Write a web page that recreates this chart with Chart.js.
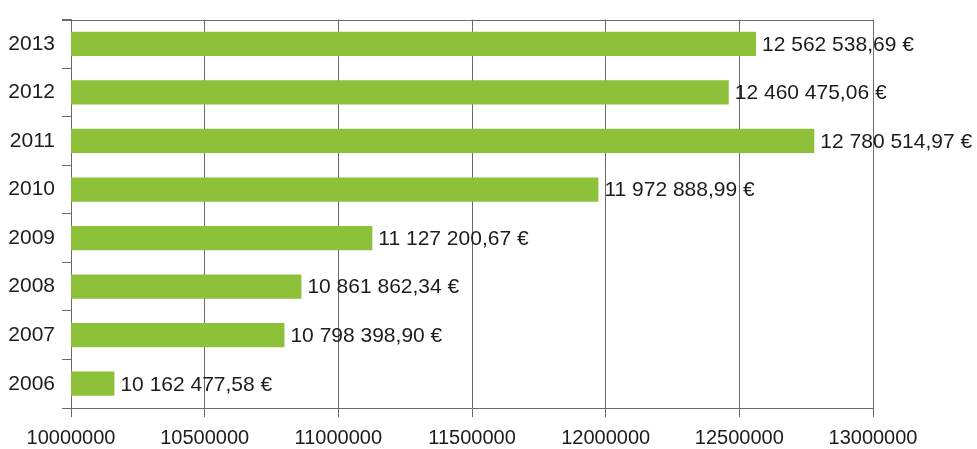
<!DOCTYPE html>
<html>
<head>
<meta charset="utf-8">
<script src="https://cdn.jsdelivr.net/npm/chart.js@4"></script>
<style>
  html, body { margin: 0; padding: 0; background: #fff; }
  #wrap { width: 977px; height: 449px; }
</style>
</head>
<body>
<div id="wrap"><canvas id="budgetChart"></canvas></div>
<script>
// Years, top to bottom
const years = ['2013', '2012', '2011', '2010', '2009', '2008', '2007', '2006'];
// Amount per year in euros
const amounts = [12562538.69, 12460475.06, 12780514.97, 11972888.99, 11127200.67, 10861862.34, 10798398.90, 10162477.58];
// X axis range and step
const axisMin = 10000000;
const axisMax = 13000000;
const axisStep = 500000;

const textColor = '#1c1c1c';
const lineColor = '#6a6a6a';

// Format like "12 562 538,69 €"
function formatEuro(v) {
    const parts = v.toFixed(2).split('.');
    const intPart = parts[0].replace(/\B(?=(\d{3})+(?!\d))/g, ' ');
    return intPart + ',' + parts[1] + ' €';
}

// Draws the value text after each bar and the top frame line
const valueLabels = {
    id: 'valueLabels',
    afterDatasetsDraw(chart) {
        const ctx = chart.ctx;
        const meta = chart.getDatasetMeta(0);
        ctx.save();
        ctx.font = '21px Arial, "Liberation Sans", sans-serif';
        ctx.fillStyle = textColor;
        ctx.textAlign = 'left';
        ctx.textBaseline = 'middle';
        meta.data.forEach(function(bar, i) {
            ctx.fillText(formatEuro(amounts[i]), bar.x + 6, bar.y + 1);
        });
        ctx.restore();
    },
    beforeDatasetsDraw(chart) {
        const a = chart.chartArea;
        const ctx = chart.ctx;
        ctx.save();
        ctx.strokeStyle = lineColor;
        ctx.lineWidth = 1;
        ctx.beginPath();
        ctx.moveTo(a.left - 9, Math.round(a.top) + 0.5);
        ctx.lineTo(a.right, Math.round(a.top) + 0.5);
        ctx.stroke();
        ctx.restore();
    }
};

const ctx = document.getElementById('budgetChart').getContext('2d');
new Chart(ctx, {
    type: 'bar',
    data: {
        labels: years,
        datasets: [{
            data: amounts,
            backgroundColor: '#8ec13a',
            borderWidth: 0,
            barPercentage: 0.5,
            categoryPercentage: 1
        }]
    },
    options: {
        indexAxis: 'y',
        responsive: true,
        maintainAspectRatio: false,
        animation: false,
        layout: { padding: { top: 15, right: 104, left: 0, bottom: 0 } },
        plugins: {
            legend: { display: false },
            tooltip: { enabled: false }
        },
        scales: {
            x: {
                min: axisMin,
                max: axisMax,
                afterFit: function(scale) { scale.height = 41; },
                ticks: {
                    stepSize: axisStep,
                    color: textColor,
                    padding: 9,
                    maxRotation: 0,
                    font: { family: 'Arial, "Liberation Sans", sans-serif', size: 20 },
                    callback: function(value) { return String(value); }
                },
                grid: {
                    color: lineColor,
                    lineWidth: 1,
                    tickLength: 9,
                    drawOnChartArea: true
                },
                border: { color: lineColor, width: 1 }
            },
            y: {
                afterFit: function(scale) { scale.width = 71; },
                ticks: {
                    color: textColor,
                    padding: 7,
                    font: { family: 'Arial, "Liberation Sans", sans-serif', size: 21 }
                },
                grid: {
                    offset: true,
                    color: lineColor,
                    tickLength: 9,
                    drawOnChartArea: false
                },
                border: { color: lineColor, width: 1 }
            }
        }
    },
    plugins: [valueLabels]
});
</script>
</body>
</html>
